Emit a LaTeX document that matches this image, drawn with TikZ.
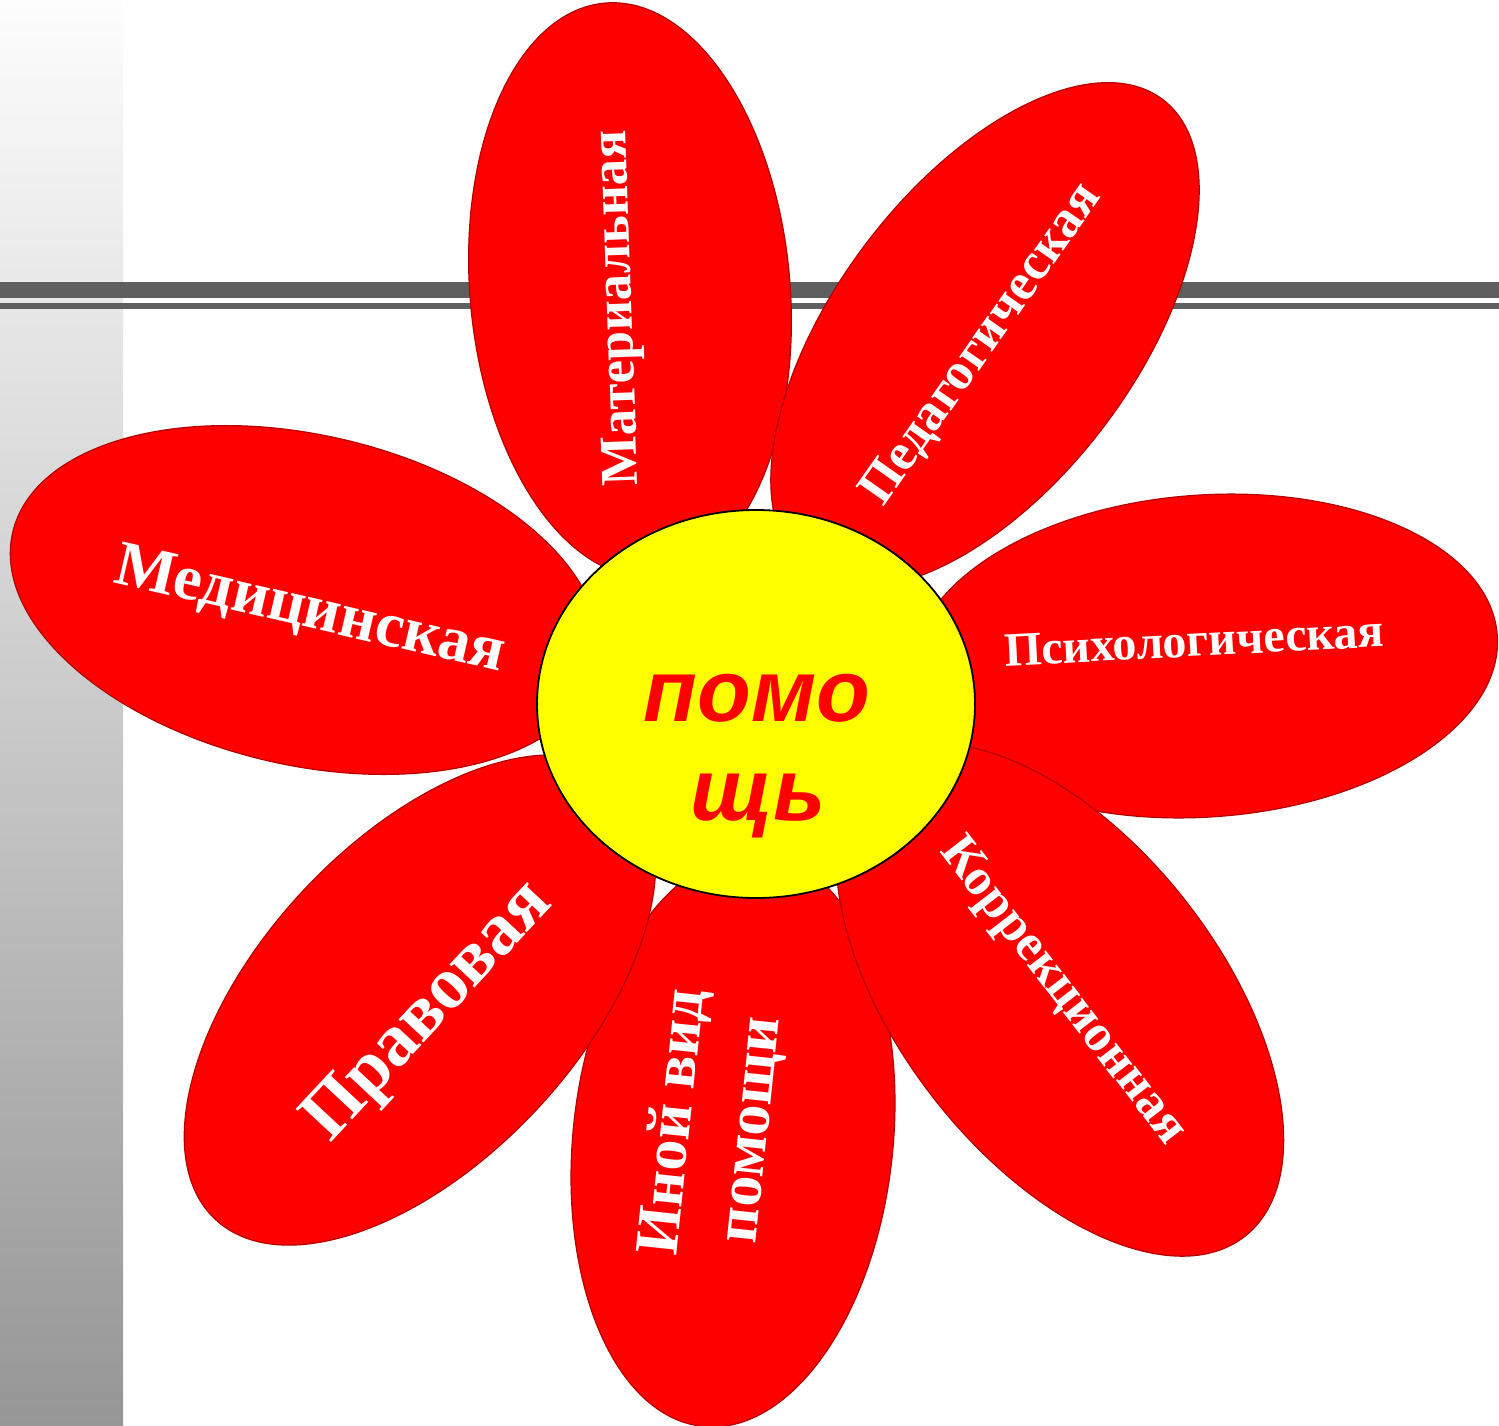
\documentclass[tikz,border=0pt]{standalone}
\usepackage{fontspec}
\setmainfont{Liberation Serif}
\newfontfamily\helpfont{Liberation Sans}
\usetikzlibrary{shapes.geometric}
\definecolor{petalred}{HTML}{FF0000}
\definecolor{petalline}{HTML}{B40000}
\definecolor{linegray}{HTML}{5F5F5F}
\definecolor{coreyellow}{HTML}{FFFF00}
\tikzset{
  petal/.style={ellipse, draw=petalline, fill=petalred, line width=1.2pt, inner sep=0pt},
  ptext/.style={text=white, inner sep=0pt, font=\bfseries\fontsize{#1}{#1}\selectfont},
  htext/.style={text=petalred, inner sep=0pt, font=\helpfont\bfseries\itshape\fontsize{88}{99}\selectfont}
}
\begin{document}
\begin{tikzpicture}[x=1pt,y=1pt]
\useasboundingbox (0,0) rectangle (1499,-1426);
\shade[top color={rgb,255:red,253;green,253;blue,253}, bottom color={rgb,255:red,150;green,150;blue,150}] (0,0) rectangle (123,-1426);
\fill[linegray] (0,-282) rectangle (1499,-298);
\fill[linegray] (0,-303) rectangle (1499,-309);
% petals
\node[petal, minimum width=576, minimum height=320, rotate=84] (inoy) at (733,-1140) {};
\node[petal, minimum width=600, minimum height=320, rotate=47] (prav) at (420,-1000) {};
\node[petal, minimum width=600, minimum height=330, rotate=-13] (med) at (305,-600) {};
\node[petal, minimum width=576, minimum height=320, rotate=95] (mat) at (630,-290) {};
\node[petal, minimum width=590, minimum height=300, rotate=53] (ped) at (985,-335) {};
\node[petal, minimum width=586, minimum height=322, rotate=4] (psy) at (1205,-656) {};
\node[petal, minimum width=600, minimum height=320, rotate=-52] (kor) at (1060,-1000) {};
% core
\node[ellipse, draw=black, line width=1.8pt, fill=coreyellow, minimum width=438, minimum height=388, inner sep=0pt] (core) at (756,-704) {};
% texts
\node[ptext=53, rotate=92] (tmat) at (620,-308) {Материальная};
\node[ptext=52.5, rotate=55] (tped) at (982,-345) {Педагогическая};
\node[ptext=48, rotate=3] (tpsy) at (1194,-641) {Психологическая};
\node[ptext=64, rotate=-13] (tmed) at (310,-612) {Медицинская};
\node[ptext=52, rotate=-52.4] (tkor) at (1062,-992) {Коррекционная};
\node[ptext=74, rotate=47] (tprav) at (430,-1013) {Правовая};
\node[ptext=62, rotate=84, align=center] (tinoy) at (713,-1126) {Иной вид\\[16pt]помощи};
\node[htext, anchor=base] (h1) at (757,-721) {помо};
\node[htext, anchor=base] (h2) at (758,-820) {щь};
\end{tikzpicture}
\end{document}
